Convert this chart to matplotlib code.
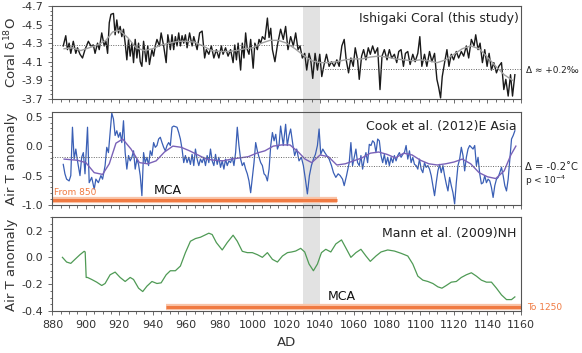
import matplotlib
matplotlib.use("Agg")
import matplotlib.pyplot as plt
import matplotlib.transforms as mtransforms
from matplotlib.patches import Rectangle
from matplotlib.ticker import MultipleLocator, FormatStrFormatter

# --- Ishigaki coral d18O (annual) ---
coral_years = [886.5, 888, 889, 890, 891, 892.5, 894, 895, 896.5, 898, 899.5, 901.5, 903, 904.5, 905.5,
               907, 908, 909.5, 911, 912, 913, 914, 915, 916.5, 917.5, 918.5, 919.5, 920.5, 921.5, 922.5,
               923.5, 924.5, 925.5, 926.5, 927.5, 928.5, 929.5, 930.5, 931.5, 932.5, 933.5, 934.5, 936, 937,
               938, 939.5, 940.5, 941.5, 942.5, 944, 945, 946.5, 948, 949, 950.5, 951.5, 952.5, 953.5, 954.5,
               955.5, 956.5, 957.5, 958.5, 959.5, 960.5, 962, 963.5, 964.5, 966.5, 968, 969.5, 971, 972,
               973.5, 975, 976.5, 978, 979.5, 981, 982, 983.5, 985, 986.5, 988, 989, 990, 991, 992.5, 993.5,
               994.5, 995.5, 996.5, 997.5, 998.5, 1000, 1001, 1002.5, 1003.5, 1004.5, 1005.5, 1007, 1008.5,
               1009.5, 1010.5, 1011.5, 1013, 1014.5, 1016.4, 1018, 1019.4, 1020.8, 1022.4, 1024, 1025.4,
               1026.8, 1028, 1029.4, 1030.8, 1032, 1033.4, 1034.4, 1035.6, 1037, 1038.4, 1039.8, 1041,
               1042.4, 1043.8, 1045.4, 1046.8, 1048.4, 1050, 1051.4, 1053, 1054.4, 1055.6, 1057, 1058.4,
               1059.8, 1061, 1062.4, 1063.4, 1064.8, 1066, 1067.4, 1068.8, 1070, 1071.4, 1072.8, 1074.4,
               1075.8, 1077, 1078.4, 1080, 1081.4, 1082.8, 1084.4, 1085.8, 1087, 1088.4, 1089.8, 1091,
               1092.4, 1093.8, 1095.4, 1096.8, 1098.4, 1099.6, 1100.8, 1102.4, 1103.8, 1105.4, 1106.8,
               1108.4, 1109.8, 1110.8, 1112, 1113, 1114.4, 1115.8, 1117, 1118.4, 1119.8, 1121.4, 1122.8,
               1124.4, 1125.8, 1127.4, 1128.8, 1130.4, 1132, 1133, 1134.4, 1135.6, 1137, 1138.4, 1139.8,
               1141, 1142.4, 1143.8, 1145.4, 1146.8, 1148.4, 1149.8, 1151, 1152.4, 1153.8, 1155, 1156.4]
coral_d18o = [-4.27, -4.38, -4.23, -4.30, -4.19, -4.32, -4.19, -4.25, -4.18, -4.14, -4.23, -4.32, -4.27, -4.28,
              -4.19, -4.30, -4.23, -4.41, -4.27, -4.32, -4.19, -4.52, -4.61, -4.62, -4.39, -4.55, -4.41,
              -4.48, -4.37, -4.45, -4.30, -4.12, -4.34, -4.16, -4.30, -4.09, -4.34, -4.14, -4.30, -4.10,
              -4.05, -4.32, -4.10, -4.27, -4.07, -4.23, -4.16, -4.27, -4.34, -4.27, -4.41, -4.27, -4.09,
              -4.39, -4.23, -4.39, -4.23, -4.37, -4.27, -4.41, -4.27, -4.38, -4.30, -4.39, -4.25, -4.41,
              -4.27, -4.37, -4.23, -4.41, -4.43, -4.14, -4.23, -4.18, -4.27, -4.14, -4.23, -4.14, -4.27,
              -4.18, -4.25, -4.16, -4.23, -4.09, -4.28, -4.12, -4.30, -4.01, -4.30, -4.14, -4.41, -4.23,
              -4.18, -4.34, -4.03, -4.30, -4.23, -4.34, -4.30, -4.37, -4.34, -4.57, -4.36, -4.46, -4.23,
              -4.10, -4.28, -4.45, -4.34, -4.48, -4.23, -4.37, -4.27, -4.41, -4.23, -4.27, -4.14, -4.19,
              -4.01, -4.19, -4.12, -3.92, -4.19, -4.01, -4.18, -3.94, -4.07, -4.18, -4.05, -4.10, -4.05,
              -4.12, -4.05, -4.27, -4.34, -4.12, -3.98, -4.14, -4.05, -4.25, -4.12, -3.91, -4.16, -4.23,
              -4.12, -4.25, -4.18, -4.27, -4.19, -4.25, -3.80, -4.16, -4.23, -4.12, -4.23, -4.14, -4.18,
              -4.09, -4.21, -4.23, -4.05, -4.19, -4.21, -4.07, -4.18, -4.10, -4.19, -4.37, -4.05, -4.18,
              -4.05, -4.21, -4.10, -4.19, -3.91, -3.83, -3.71, -3.94, -4.09, -4.23, -4.05, -4.18, -4.12,
              -4.21, -4.14, -4.21, -4.16, -4.27, -4.14, -4.34, -4.27, -4.39, -4.23, -4.30, -4.09, -4.23,
              -4.05, -4.19, -4.01, -4.09, -3.98, -4.05, -4.09, -3.80, -3.91, -3.73, -3.96, -3.73, -3.96]

coral_smooth_years = [887, 892, 897, 902, 907, 912, 916, 920, 925, 930, 935, 940, 945, 950, 955, 960, 965,
                      970, 975, 980, 985, 990, 995, 1000, 1005, 1010, 1015, 1020, 1025, 1030, 1035, 1040,
                      1045, 1050, 1055, 1060, 1065, 1070, 1075, 1080, 1085, 1090, 1095, 1100, 1105, 1110,
                      1115, 1120, 1125, 1130, 1135, 1140, 1145, 1150, 1155]
coral_smooth = [-4.24, -4.25, -4.22, -4.25, -4.28, -4.33, -4.42, -4.44, -4.36, -4.25, -4.22, -4.24, -4.28,
                -4.30, -4.32, -4.32, -4.31, -4.27, -4.22, -4.21, -4.21, -4.22, -4.24, -4.25, -4.30, -4.33,
                -4.33, -4.30, -4.24, -4.17, -4.11, -4.09, -4.09, -4.10, -4.12, -4.13, -4.13, -4.15, -4.16,
                -4.15, -4.13, -4.12, -4.11, -4.12, -4.11, -4.09, -4.12, -4.18, -4.24, -4.27, -4.24, -4.15,
                -4.05, -3.96, -3.90]
coral_mean_spans = [(880, 1030), (1040, 1160)]
coral_means = [-4.28, -4.02]

# --- Cook et al. (2012) E Asia air T anomaly ---
cook_years = [886.5, 887.5, 888.5, 890, 891, 892, 893, 894, 895, 896.5, 897.5, 898.5, 899.5, 901, 902,
              903.5, 905, 906, 907.5, 909, 910, 911.5, 912.5, 913.5, 914.5, 915.5, 916.5, 917.5, 918.5,
              919.5, 920.5, 921.5, 922.5, 923.5, 924.5, 925.5, 926.5, 927.5, 928.5, 929.5, 930.5, 931.5,
              932.5, 933.5, 934.5, 935.5, 936.5, 937.5, 938.5, 939.5, 940.5, 941.5, 942.5, 943.5, 944.5,
              945.5, 946.5, 947.5, 948.5, 949.5, 950.5, 951.5, 952.5, 953.5, 954.5, 955.5, 956.5, 957.5,
              958.5, 959.5, 960.5, 961.5, 962.5, 963.5, 964.5, 965.5, 966.5, 967.5, 968.5, 969.5, 970.5,
              971.5, 972.5, 973.5, 974.5, 975.5, 976.5, 977.5, 978.5, 979.5, 980.5, 981.5, 982.5, 983.5,
              984.5, 985.5, 986.5, 987.5, 988.5, 989.5, 990.5, 991.5, 992.5, 993.5, 994.5, 995.5, 996.5,
              997.5, 998.5, 999.5, 1000.5, 1001.5, 1002.5, 1003.5, 1004.5, 1005.5, 1006.5, 1007.5, 1008.5,
              1009.5, 1010.5, 1011.5, 1012.5, 1013.5, 1014.5, 1015.5,
              1016.4, 1018, 1019.4, 1020.4, 1021.4, 1022.4, 1023.8, 1024.8, 1026, 1027.4, 1028.8, 1030,
              1031.2, 1032.4, 1033.6, 1034.8, 1036, 1037.2, 1038.4, 1039.4, 1040.4, 1041.6, 1042.8, 1044,
              1045.4, 1046.8, 1048, 1049.4, 1050.8, 1052, 1053.4, 1054.4, 1055.8, 1057.4, 1058.4, 1059.4,
              1060.4, 1061.4, 1062.4, 1063.4, 1064.4, 1065.4, 1066.4, 1067.4, 1068.4, 1069.4, 1070.4,
              1071.4, 1072.4, 1073.4, 1074.4, 1075.4, 1076.4, 1077.4, 1078.4, 1079.4, 1080.4, 1081.4,
              1082.4, 1083.4, 1084.4, 1085.4, 1086.4, 1087.4, 1088.4, 1089.4, 1090.4, 1091.4, 1092.4,
              1093.4, 1094.4, 1095.4, 1096.4, 1097.4, 1098.4, 1099.4, 1100.4, 1101.4, 1102.4, 1103.4,
              1104.4, 1105.4, 1106.4, 1107.4, 1108.4, 1109.4, 1110.4, 1111.4, 1112.4, 1113.4, 1114.4,
              1115.4, 1116.4, 1117.4, 1118.4, 1119.4, 1120.4, 1121.4, 1122.4, 1123.4, 1124.4, 1125.4,
              1126.4, 1127.4, 1128.4, 1129.4, 1130.4, 1131.4, 1132.4, 1133.4, 1134.4, 1135.4, 1136.4,
              1137.4, 1138.4, 1139.4, 1140.4, 1141.4, 1142.4, 1143.4, 1144.4, 1145.4, 1146.4, 1147.4,
              1148.4, 1149.4, 1150.4, 1151.4, 1152.4, 1153.4, 1154.4, 1155.4, 1156.4]
cook_temp = [-0.31, -0.47, -0.56, -0.59, -0.50, 0.32, -0.22, -0.05, -0.25, -0.50, -0.19, -0.11, -0.47, 0.32,
             -0.62, -0.53, -0.73, -0.56, -0.62, -0.50, -0.56, -0.33, -0.02, -0.11, 0.23, 0.56, 0.46, 0.18,
             0.26, 0.15, 0.23, 0.06, 0.43, -0.11, -0.39, -0.16, -0.25, -0.19, -0.08, -0.39, -0.22, -0.31,
             -0.50, -0.84, -0.11, -0.28, -0.19, -0.33, -0.08, -0.16, 0.06, -0.02, 0.01, 0.12, 0.15, 0.06,
             -0.02, -0.08, 0.01, 0.06, 0.01, 0.32, 0.34, 0.33, 0.32, 0.23, 0.12, -0.05, -0.28, -0.16, -0.28,
             -0.19, -0.31, -0.14, -0.33, -0.05, -0.22, -0.33, -0.22, -0.28, -0.19, -0.33, -0.16, -0.28,
             -0.05, -0.25, -0.33, -0.14, -0.31, -0.19, -0.36, -0.25, -0.39, -0.22, -0.33, -0.25, -0.28,
             -0.19, -0.33, -0.11, 0.32, 0.01, -0.22, -0.33, -0.28, -0.39, -0.47, -0.59, -0.79, -0.53,
             -0.28, 0.06, -0.08, -0.19, -0.28, -0.33, -0.47, -0.50, -0.59, -0.39, 0.01, 0.23, 0.09, 0.20,
             -0.05, 0.03,
             0.34, 0.01, 0.37, 0.01, 0.18, 0.29, 0.01, -0.16, -0.05, -0.25, -0.19, -0.33, -0.56, -0.81,
             -0.50, -0.33, -0.22, -0.14, 0.01, 0.29, -0.14, -0.05, -0.11, -0.16, -0.22, -0.33, -0.45,
             -0.53, -0.47, -0.50, -0.56, -0.67, -0.50, -0.28, 0.06, -0.33, -0.19, -0.05, -0.28, -0.33,
             -0.16, -0.39, -0.22, -0.11, -0.28, 0.03, 0.01, 0.09, 0.06, -0.11, 0.12, 0.09, -0.16, -0.28,
             -0.14, -0.31, -0.19, -0.33, -0.19, -0.28, -0.16, -0.25, -0.16, -0.11, -0.19, -0.14, -0.11,
             0.01, -0.22, -0.08, -0.28, -0.19, -0.31, -0.33, -0.39, -0.22, -0.39, -0.45, -0.28, -0.36,
             -0.33, -0.39, -0.50, -0.67, -0.84, -0.62, -0.42, -0.31, -0.45, -0.33, -0.50, -0.64, -0.76,
             -0.53, -0.67, -0.79, -0.98, -0.62, -0.33, -0.22, -0.02, -0.16, -0.42, -0.19, -0.05, 0.01,
             -0.02, -0.05, 0.01, -0.33, -0.19, -0.47, -0.64, -0.62, -0.50, -0.62, -0.56, -0.59, -0.70,
             -0.87, -0.67, -0.56, -0.53, -0.45, -0.36, -0.50, -0.67, -0.76, -0.56, -0.22, 0.12, 0.18, 0.26]

cook_smooth_years = [887, 895, 900, 905, 910, 914, 918, 922, 927, 932, 937, 942, 947, 952, 957, 962, 967,
                     972, 977, 982, 987, 992, 997, 1002, 1007, 1012, 1017, 1022, 1027, 1031, 1035, 1040,
                     1045, 1050, 1055, 1060, 1065, 1070, 1075, 1080, 1085, 1090, 1095, 1100, 1105, 1110,
                     1115, 1120, 1125, 1130, 1135, 1140, 1145, 1150, 1154, 1157]
cook_smooth = [-0.22, -0.24, -0.28, -0.45, -0.48, -0.30, 0.05, 0.12, -0.05, -0.28, -0.30, -0.25, -0.10,
               0.00, -0.02, -0.08, -0.15, -0.22, -0.24, -0.25, -0.22, -0.20, -0.18, -0.12, -0.08, 0.00,
               0.02, 0.02, -0.10, -0.22, -0.28, -0.15, -0.18, -0.32, -0.30, -0.25, -0.20, -0.12, -0.10,
               -0.14, -0.20, -0.12, -0.15, -0.24, -0.30, -0.32, -0.30, -0.27, -0.22, -0.30, -0.45, -0.52,
               -0.55, -0.42, -0.15, 0.0]
cook_mean_spans = [(880, 1050), (1050, 1160)]
cook_means = [-0.18, -0.33]
cook_mca = (880, 1050)

# --- Mann et al. (2009) NH air T anomaly ---
mann_years = [886, 888.5, 891, 893.5, 896.5, 899, 899.6, 900.2, 901, 903.5, 906.5, 909.5, 911.5, 914.5,
              917.5, 920.5, 923.5, 926.5, 928.5, 931.5, 934, 936.5, 939.5, 942.5, 945, 948, 950.5, 953.5,
              956.5, 959.5, 962.5, 965.5, 968.5, 971, 973.5, 975.5, 978, 981.5, 984.5, 988, 990.5, 993.5,
              996.5, 999.5, 1002.5, 1005.5, 1008.5, 1011.5, 1014.5, 1017.5, 1020.5, 1023, 1025.4, 1028.4,
              1030.8, 1033.4, 1036, 1038.4, 1040.8, 1043.4, 1046.4, 1049.4, 1052.8, 1055.4, 1058.4, 1061.4,
              1064.4, 1067.4, 1070, 1073.4, 1076.4, 1080.4, 1084.4, 1088.4, 1092.4, 1095.4, 1098.4, 1101.4,
              1104.4, 1107.4, 1110.4, 1112.8, 1115.4, 1118.4, 1121.4, 1124.4, 1127.4, 1130.4, 1133.4,
              1136.4, 1139.4, 1142.4, 1145.4, 1148.4, 1151.4, 1154.4, 1156.4]
mann_temp = [0.0, -0.035, -0.045, -0.015, 0.02, 0.045, 0.04, -0.15, -0.15, -0.165, -0.185, -0.21, -0.195,
             -0.13, -0.11, -0.15, -0.18, -0.15, -0.165, -0.23, -0.255, -0.215, -0.18, -0.195, -0.19, -0.13,
             -0.10, -0.10, -0.065, 0.035, 0.12, 0.14, 0.15, 0.165, 0.18, 0.17, 0.11, 0.055, 0.11, 0.165,
             0.12, 0.045, 0.035, 0.035, 0.02, 0.0, 0.035, -0.015, -0.035, 0.01, 0.035, 0.04, 0.047, 0.067,
             0.04, -0.05, -0.10, -0.05, 0.035, 0.06, 0.04, 0.10, 0.13, 0.07, 0.0, 0.035, 0.06, 0.01, -0.03,
             0.01, 0.04, 0.055, 0.047, 0.03, 0.01, -0.05, -0.14, -0.17, -0.18, -0.195, -0.22, -0.23, -0.21,
             -0.185, -0.18, -0.15, -0.13, -0.115, -0.14, -0.17, -0.185, -0.185, -0.23, -0.28, -0.315,
             -0.315, -0.295]
mann_mca = (948, 1160)

shade_span = (1030, 1040)

# --- style ---
ORANGE = "#f07a42"
ORANGE_GLOW = "#f9c4a8"
SPINE = "#555555"
TXT = "#333333"

fig = plt.figure(figsize=(5.82, 3.53), dpi=100)
fig.patch.set_facecolor("white")
L, W = 0.090, 0.805
ax1 = fig.add_axes([L, 0.720, W, 0.263])
ax2 = fig.add_axes([L, 0.419, W, 0.264])
ax3 = fig.add_axes([L, 0.119, W, 0.266])

for ax in (ax1, ax2, ax3):
    ax.set_facecolor("none")
    ax.set_xlim(880, 1160)
    ax.xaxis.set_major_locator(MultipleLocator(20))
    ax.xaxis.set_minor_locator(MultipleLocator(5))
    for s in ax.spines.values():
        s.set_color(SPINE)
        s.set_linewidth(0.8)
    ax.tick_params(which="both", direction="out", colors=SPINE, labelcolor=TXT, labelsize=8,
                   width=0.6)
    ax.tick_params(which="major", length=3)
    ax.tick_params(which="minor", length=1.8)

ax1.tick_params(axis="x", labelbottom=False)
ax2.tick_params(axis="x", labelbottom=False)

# panel 1: coral
ax1.plot(coral_years, coral_d18o, color="#1a1a1a", lw=1.0)
ax1.plot(coral_smooth_years, coral_smooth, color="#a0a0a0", lw=1.0)
for (x0, x1), m in zip(coral_mean_spans, coral_means):
    ax1.hlines(m, x0, x1, colors="#666666", linestyles=(0, (1, 1.5)), lw=0.7)
ax1.set_ylim(-3.7, -4.7)
ax1.set_yticks([-4.7, -4.5, -4.3, -4.1, -3.9, -3.7])
ax1.yaxis.set_minor_locator(MultipleLocator(0.05))
ax1.yaxis.set_major_formatter(FormatStrFormatter("%.1f"))
ax1.text(0.995, 0.86, "Ishigaki Coral (this study)", transform=ax1.transAxes, ha="right", va="center",
         fontsize=9, color="#222222")

# panel 2: Cook
ax2.plot(cook_years, cook_temp, color="#3a5fb5", lw=0.9)
ax2.plot(cook_smooth_years, cook_smooth, color="#7a62b8", lw=1.0)
for (x0, x1), m in zip(cook_mean_spans, cook_means):
    ax2.hlines(m, x0, x1, colors="#666666", linestyles=(0, (1, 1.5)), lw=0.7)
ax2.set_ylim(-1.0, 0.58)
ax2.set_yticks([0.5, 0.0, -0.5, -1.0])
ax2.yaxis.set_minor_locator(MultipleLocator(0.1))
ax2.yaxis.set_major_formatter(FormatStrFormatter("%.1f"))
ax2.plot(cook_mca, [-0.915, -0.915], color=ORANGE_GLOW, lw=4.5, solid_capstyle="butt", clip_on=False)
ax2.plot(cook_mca, [-0.915, -0.915], color=ORANGE, lw=2.2, solid_capstyle="butt", clip_on=False)
ax2.text(881, -0.79, "From 850", color=ORANGE, fontsize=6.5, ha="left", va="center")
ax2.text(949, -0.76, "MCA", color="#111111", fontsize=9, ha="center", va="center")
ax2.text(0.99, 0.84, "Cook et al. (2012)E Asia", transform=ax2.transAxes, ha="right", va="center",
         fontsize=9, color="#222222")

# panel 3: Mann
ax3.plot(mann_years, mann_temp, color="#4f9a55", lw=0.9)
ax3.set_ylim(-0.4, 0.3)
ax3.set_yticks([0.2, 0.0, -0.2, -0.4])
ax3.yaxis.set_minor_locator(MultipleLocator(0.05))
ax3.yaxis.set_major_formatter(FormatStrFormatter("%.1f"))
ax3.plot(mann_mca, [-0.368, -0.368], color=ORANGE_GLOW, lw=4.5, solid_capstyle="butt", clip_on=False)
ax3.plot(mann_mca, [-0.368, -0.368], color=ORANGE, lw=2.2, solid_capstyle="butt", clip_on=False)
ax3.text(1053, -0.29, "MCA", color="#111111", fontsize=9, ha="center", va="center")
ax3.text(0.99, 0.82, "Mann et al. (2009)NH", transform=ax3.transAxes, ha="right", va="center",
         fontsize=9, color="#222222")
ax3.set_xticks(range(880, 1161, 20))
ax3.set_xlabel("AD", fontsize=9.5, color=TXT, labelpad=4)

# grey shading spanning all panels
trans = mtransforms.blended_transform_factory(ax3.transData, fig.transFigure)
band = Rectangle((shade_span[0], 0.119), shade_span[1] - shade_span[0], 0.983 - 0.119,
                 transform=trans, facecolor="#e2e2e2", edgecolor="none", zorder=-1)
fig.add_artist(band)

# y labels
fig.text(0.019, 0.85, "Coral δ$^{18}$O", rotation=90, ha="center", va="center", fontsize=9.5, color=TXT)
fig.text(0.019, 0.55, "Air T anomaly", rotation=90, ha="center", va="center", fontsize=9.5, color=TXT)
fig.text(0.019, 0.25, "Air T anomaly", rotation=90, ha="center", va="center", fontsize=9.5, color=TXT)

# right-hand annotations
fig.text(0.903, 1 - 70.7 / 353, "Δ ≈ +0.2‰", ha="left", va="center", fontsize=6.4, color="#222222")
fig.text(0.902, 1 - 167 / 353, "Δ = -0.2˚C", ha="left", va="center", fontsize=7.2, color="#222222")
fig.text(0.902, 1 - 181 / 353, "p < 10$^{-4}$", ha="left", va="center", fontsize=6.5, color="#222222")
fig.text(0.905, 1 - 307 / 353, "To 1250", ha="left", va="center", fontsize=6.5, color=ORANGE)

fig.savefig("out.png", dpi=100)
